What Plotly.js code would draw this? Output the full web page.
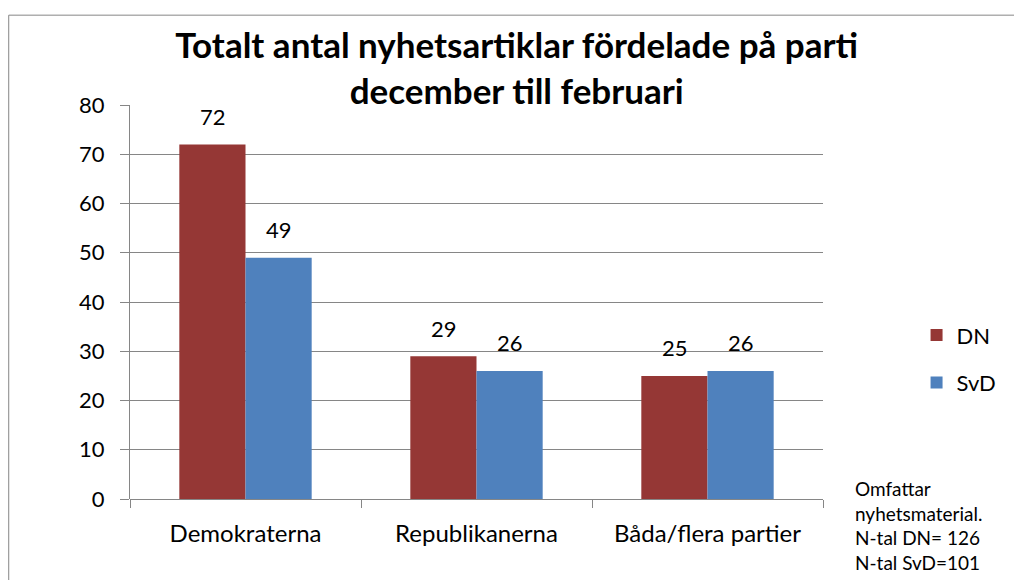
<!DOCTYPE html>
<html>
<head>
<meta charset="utf-8">
<script src="https://cdn.plot.ly/plotly-3.0.1.min.js"></script>
<style>html,body{margin:0;padding:0;background:#fff;}#chart{width:1014px;height:580px;}</style>
</head>
<body>
<div id="chart"></div>
<script>
const categories = ["Demokraterna", "Republikanerna", "Båda/flera partier"];
const seriesNames = ["DN", "SvD"];
const dnValues = [72, 29, 25];
const svdValues = [49, 26, 26];
const yTicks = [0, 10, 20, 30, 40, 50, 60, 70, 80];
const titleText = "Totalt antal nyhetsartiklar fördelade på parti<br>december till februari";
const noteText = "Omfattar<br>nyhetsmaterial.<br>N-tal DN= 126<br>N-tal SvD=101";

const FONT = "Lato, 'Open Sans', sans-serif";
const colors = ["#953735", "#4F81BD"];
const allSeries = [dnValues, svdValues];

const traces = allSeries.map((vals, i) => ({
  type: "bar",
  name: seriesNames[i],
  x: categories,
  y: vals,
  marker: {color: colors[i], line: {width: 0}},
  legendgroup: seriesNames[i],
  hoverinfo: "none"
}));

const annotations = [];
allSeries.forEach((vals, i) => {
  vals.forEach((v, j) => {
    annotations.push({
      x: categories[j], y: v, xref: "x", yref: "y",
      text: String(v), showarrow: false,
      xshift: (i === 0 ? -33 : 33), yshift: 28,
      font: {family: FONT, size: 22, color: "#000"}
    });
  });
});
annotations.push({
  xref: "paper", yref: "paper", x: 1.044, y: 0.06,
  xanchor: "left", yanchor: "top", align: "left",
  text: noteText, showarrow: false,
  font: {family: FONT, size: 19, color: "#000"}
});

const layout = {
  width: 1014, height: 580,
  margin: {l: 130, r: 188, t: 105, b: 81},
  paper_bgcolor: "#fff", plot_bgcolor: "#fff",
  font: {family: FONT, color: "#000"},
  title: {
    text: "<b>" + titleText + "</b>",
    font: {family: FONT, size: 35, color: "#000"},
    x: 0.558, xanchor: "center", xref: "paper",
    y: 0.9, yanchor: "middle"
  },
  barmode: "group",
  bargap: 0.427,
  bargroupgap: 0,
  showlegend: true,
  legend: {
    x: 1.135, y: 0.355, xanchor: "left", yanchor: "middle",
    font: {family: FONT, size: 22, color: "#000"},
    tracegroupgap: 16, traceorder: "grouped",
    bgcolor: "rgba(0,0,0,0)"
  },
  xaxis: {
    type: "category",
    tickson: "boundaries",
    ticks: "outside", ticklen: 8, tickcolor: "#868686", tickwidth: 1,
    showline: false,
    showgrid: false,
    tickfont: {family: FONT, size: 24, color: "#000"},
    ticklabelstandoff: 18,
    zeroline: false
  },
  yaxis: {
    range: [0, 80],
    tickvals: yTicks,
    ticks: "outside", ticklen: 9, tickcolor: "#868686", tickwidth: 1,
    showline: true, linecolor: "#868686", linewidth: 1,
    showgrid: true, gridcolor: "#868686", gridwidth: 1,
    zeroline: true, zerolinecolor: "#868686", zerolinewidth: 1,
    tickfont: {family: FONT, size: 22, color: "#000"},
    ticklabelstandoff: 11
  },
  shapes: [
    {type: "line", xref: "paper", yref: "paper", x0: -0.175, x1: 1.3, y0: 1.228, y1: 1.228, line: {color: "#868686", width: 1}},
    {type: "line", xref: "paper", yref: "paper", x0: -0.175, x1: -0.175, y0: 1.228, y1: -0.3, line: {color: "#868686", width: 1}}
  ],
  annotations: annotations
};

Plotly.newPlot("chart", traces, layout, {displayModeBar: false, staticPlot: true});
</script>
</body>
</html>
